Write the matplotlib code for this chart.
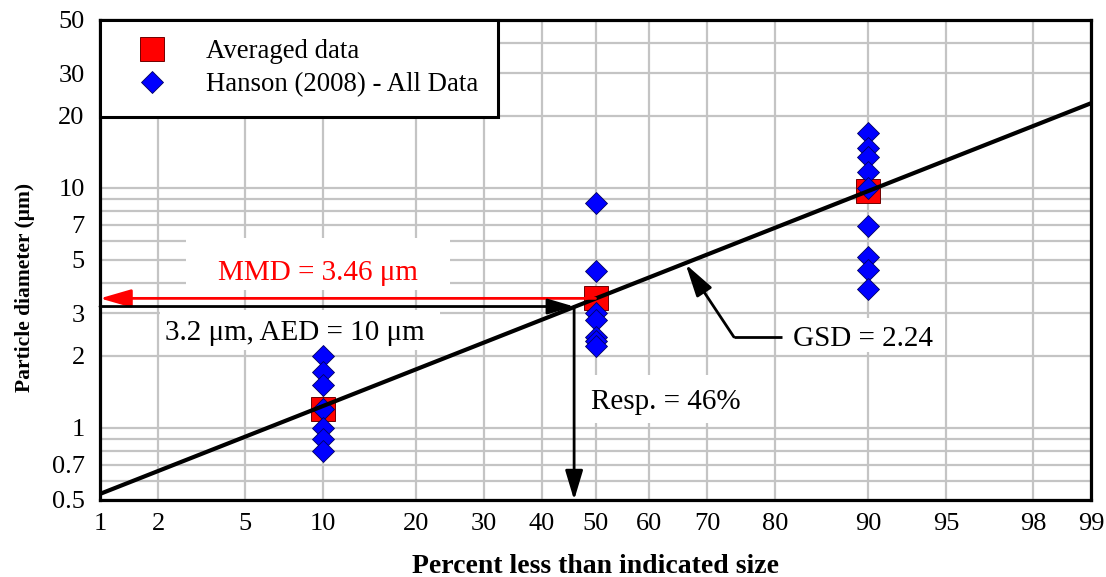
import numpy as np
import matplotlib
matplotlib.use('Agg')
import matplotlib.pyplot as plt
from matplotlib.patches import Rectangle
from matplotlib.ticker import NullFormatter, NullLocator
from statistics import NormalDist

# ---------------- data ----------------
avg_pct = [10, 50, 90]
avg_diam = [1.2, 3.46, 9.7]

hanson_pct = [10, 10, 10, 10, 10, 10, 10,
              50, 50, 50, 50, 50, 50, 50,
              90, 90, 90, 90, 90, 90, 90, 90, 90]
hanson_diam = [2.0, 1.7, 1.5, 1.2, 1.0, 0.9, 0.8,
               8.6, 4.5, 3.0, 2.8, 2.4, 2.3, 2.2,
               16.9, 14.6, 13.4, 11.6, 10.0, 6.9, 5.15, 4.55, 3.8]

fit_pct = [1, 99]
fit_diam = [0.53, 22.5]

mmd_value = 3.46
aed_diam = 3.2
resp_pct = 46
gsd_arrow_pct = [74.2, 66.4]
gsd_arrow_diam = [2.39, 4.8]
gsd_leader_pct = [74.2, 81.0]

x_ticks = [1, 2, 5, 10, 20, 30, 40, 50, 60, 70, 80, 90, 95, 98, 99]
x_labels = ['1', '2', '5', '10', '20', '30', '40', '50', '60', '70', '80', '90', '95', '98', '99']
y_ticks = [0.5, 0.7, 1, 2, 3, 5, 7, 10, 20, 30, 50]
y_labels = ['0.5', '0.7', '1', '2', '3', '5', '7', '10', '20', '30', '50']
y_grid = [0.6, 0.8, 0.9, 4, 6, 8, 9, 40]

# ---------------- style ----------------
plt.rcParams['font.family'] = ['Liberation Serif', 'DejaVu Serif']

_nd = NormalDist()
_inv_cdf = np.vectorize(_nd.inv_cdf, otypes=[float])
_cdf = np.vectorize(_nd.cdf, otypes=[float])


def fwd(p):
    p = np.clip(np.asarray(p, dtype=float) / 100.0, 1e-7, 1 - 1e-7)
    return _inv_cdf(p)


def inv(z):
    return _cdf(np.asarray(z, dtype=float)) * 100.0


fig = plt.figure(figsize=(11.06, 5.77), dpi=100)
ax = fig.add_axes([100 / 1106, 77 / 577, 991 / 1106, 480 / 577])

ax.set_xscale('function', functions=(fwd, inv))
ax.set_yscale('log')

# marks
ax.plot(avg_pct, avg_diam, 's', ms=17, mfc='red', mec='#700000', mew=0.7,
        label='Averaged data', zorder=3, clip_on=False)
ax.plot(hanson_pct, hanson_diam, 'D', ms=11.5, mfc='blue', mec='#000060', mew=0.6,
        label='Hanson (2008) - All Data', zorder=4, clip_on=False)
ax.plot(fit_pct, fit_diam, '-', color='black', lw=3, zorder=5, solid_capstyle='butt')

ax.set_xlim(1, 99)
ax.set_ylim(0.5, 50)

ax.set_xticks(x_ticks)
ax.set_xticklabels(x_labels)
ax.xaxis.set_minor_locator(NullLocator())
ax.set_yticks(y_ticks)
ax.set_yticklabels(y_labels)
ax.set_yticks(y_grid, minor=True)
ax.yaxis.set_minor_formatter(NullFormatter())
ax.tick_params(axis='both', which='both', length=0, labelsize=19)
ax.tick_params(axis='x', pad=9)
ax.tick_params(axis='y', pad=11)

ax.set_axisbelow(True)
ax.grid(True, which='both', color='#c4c4c4', lw=1.6)
for s in ax.spines.values():
    s.set_linewidth(2.3)
    s.set_color('black')

# white label boxes
boxes = [(186, 238, 450, 290), (160, 310, 440, 350), (578, 375, 760, 423), (782, 318, 945, 352)]
for x0, y0, x1, y1 in boxes:
    ax.add_patch(Rectangle(((x0 - 100) / 991, (500 - y1) / 480), (x1 - x0) / 991, (y1 - y0) / 480,
                           transform=ax.transAxes, facecolor='white', edgecolor='none', zorder=1.5))

# arrows
def arrow(xy, xytext, color, hl, hw):
    ax.annotate('', xy=xy, xytext=xytext,
                arrowprops=dict(arrowstyle=f'-|>,head_length={hl},head_width={hw}',
                                color=color, lw=2, shrinkA=0, shrinkB=0, mutation_scale=10),
                zorder=6, annotation_clip=False)

arrow((1, mmd_value), (50, mmd_value), 'red', 1.9, 0.55)
arrow((resp_pct, aed_diam), (1, aed_diam), 'black', 1.6, 0.47)
arrow((resp_pct, 0.5), (resp_pct, aed_diam), 'black', 1.8, 0.54)
arrow((gsd_arrow_pct[1], gsd_arrow_diam[1]), (gsd_arrow_pct[0], gsd_arrow_diam[0]), 'black', 2.0, 0.55)
ax.plot(gsd_leader_pct, [gsd_arrow_diam[0]] * 2, color='black', lw=2, zorder=6, solid_capstyle='butt')

# annotation texts
ax.text(0.2197, 0.458, 'MMD = 3.46 μm', transform=ax.transAxes, ha='center', va='baseline',
        color='red', fontsize=21, zorder=7)
ax.text(0.197, 0.333, '3.2 μm, AED = 10 μm', transform=ax.transAxes, ha='center', va='baseline',
        color='black', fontsize=21, zorder=7)
ax.text(0.5707, 0.1896, 'Resp. = 46%', transform=ax.transAxes, ha='center', va='baseline',
        color='black', fontsize=21, zorder=7)
ax.text(0.7697, 0.3208, 'GSD = 2.24', transform=ax.transAxes, ha='center', va='baseline',
        color='black', fontsize=21, zorder=7)

# legend
leg = ax.legend(loc='upper left', bbox_to_anchor=(0, 1), borderaxespad=0, frameon=True,
                fancybox=False, framealpha=1, edgecolor='black', fontsize=19.3,
                borderpad=0.72, labelspacing=0.3, handlelength=2.45, handletextpad=0.8,
                numpoints=1)
leg.get_frame().set_linewidth(2.2)
leg.set_zorder(10)

# axis labels
fig.text(596 / 1106, 1 - 573 / 577, 'Percent less than indicated size', ha='center', va='baseline',
         fontsize=20, fontweight='bold')
fig.text(25 / 1106, 1 - 287 / 577, 'Particle diameter (μm)', ha='center', va='center',
         rotation=90, fontsize=15.5, fontweight='bold')

fig.savefig('out.png', dpi=100)
